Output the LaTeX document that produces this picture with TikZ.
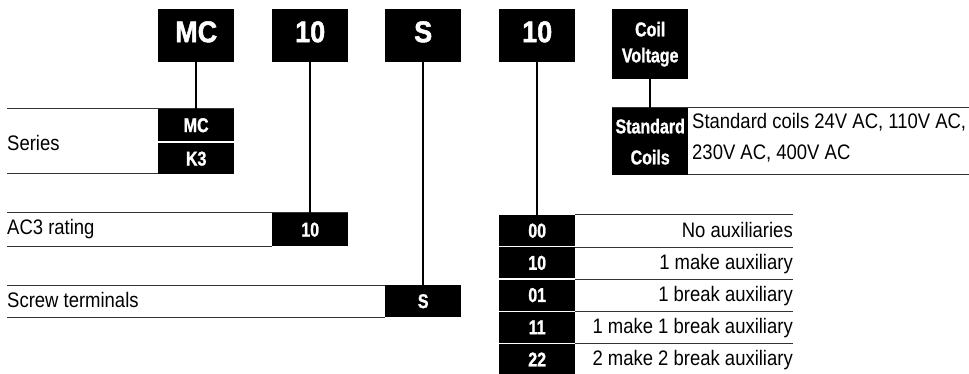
\documentclass[tikz,border=0pt]{standalone}
\usepackage{fontspec}
\setmainfont{Liberation Sans}[FakeStretch=0.88]
\newfontfamily\condfont{Liberation Sans}[FakeStretch=0.8, BoldFeatures={FakeBold=1.2}]
\newfontfamily\headfont{Liberation Sans}[FakeStretch=0.9, BoldFeatures={FakeBold=1.6}]

\tikzset{
	code/.style={fill=black, text=white, inner sep=0pt, anchor=north west, align=center,
		minimum width=76pt, font=\condfont\bfseries\fontsize{20}{31}\selectfont},
	headbox/.style={code, minimum height=53pt, text height=21pt, text depth=8pt,
		font=\headfont\bfseries\fontsize{30}{30}\selectfont},
	rowline/.style={draw=black!80, line width=1pt},
	link/.style={draw=black, line width=1.6pt},
	desc/.style={inner sep=0pt, font=\fontsize{21}{24}\selectfont}
}

\begin{document}
\begin{tikzpicture}[x=1pt, y=-1pt]
	\useasboundingbox (0,0) rectangle (969,374);

	% header boxes
	\node[headbox] (hMC) at (158,9) {MC};
	\node[headbox] (hRate) at (272,9) {10};
	\node[headbox] (hScrew) at (385,9) {S};
	\node[headbox] (hAux) at (499,9) {10};
	\node[code, minimum height=70pt, font=\condfont\bfseries\fontsize{20}{26}\selectfont] (hCoil) at (612,9) {Coil\\Voltage};

	% series
	\draw[rowline] (7,109) -- (234,109);
	\draw[rowline] (7,174) -- (158,174);
	\node[code, minimum height=32pt] (cMC) at (158,109) {MC};
	\node[code, minimum height=31pt] (cK3) at (158,143) {K3};
	\node[desc, anchor=base west] (lSeries) at (7,150.5) {Series};

	% AC3 rating
	\draw[rowline] (7,213) -- (348,213);
	\draw[rowline] (7,246) -- (272,246);
	\node[code, minimum height=33pt] (cRate) at (272,213) {10};
	\node[desc, anchor=base west] (lRate) at (7,235) {AC3 rating};

	% terminals
	\draw[rowline] (7,285) -- (461,285);
	\draw[rowline] (7,317) -- (385,317);
	\node[code, minimum height=32pt] (cScrew) at (385,285) {S};
	\node[desc, anchor=base west] (lScrew) at (7,307) {Screw terminals};

	% auxiliaries
	\foreach \code/\txt [count=\i from 0] in {00/No auxiliaries, 10/1 make auxiliary, 01/1 break auxiliary, 11/1 make 1 break auxiliary, 22/2 make 2 break auxiliary}{
		\draw[rowline] (575,{215+32.2*\i}) -- (793,{215+32.2*\i});
		\node[code, minimum height=31pt] (aux\i) at (499,{215+32.2*\i}) {\code};
		\node[desc, anchor=base east] (laux\i) at (793,{237+32.2*\i}) {\txt};
	}

	% coil voltage
	\draw[rowline] (612,108) -- (969,108);
	\draw[rowline] (688,175) -- (969,175);
	\node[code, minimum height=67pt] (cCoil) at (612,108) {Standard\\Coils};
	\node[desc, anchor=base west] (lCoilA) at (692,129) {Standard coils 24V AC, 110V AC,};
	\node[desc, anchor=base west] (lCoilB) at (692,160) {230V AC, 400V AC};

	% links
	\draw[link] (hMC) -- (cMC);
	\draw[link] (hRate) -- (cRate);
	\draw[link] (hScrew) -- (cScrew);
	\draw[link] (hAux) -- (aux0);
	\draw[link] (hCoil) -- (cCoil);
\end{tikzpicture}
\end{document}
